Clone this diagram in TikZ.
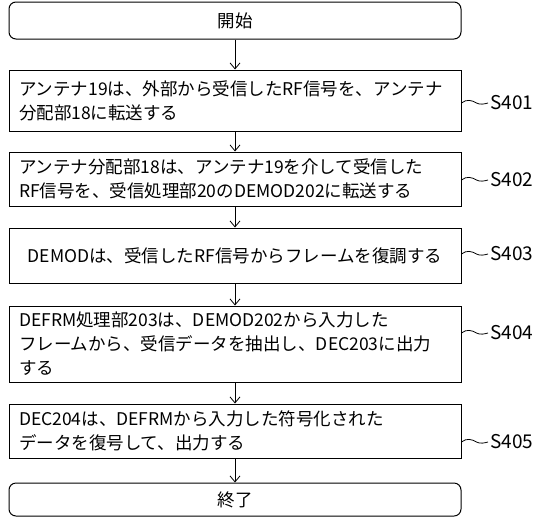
\documentclass[tikz,border=0pt]{standalone}
\usepackage{fontspec}
\setmainfont{Noto Sans CJK JP}
\usetikzlibrary{arrows.meta,calc}
\begin{document}
\begin{tikzpicture}[x=1pt,y=-1pt,
  box/.style={draw=black, line width=1pt, text width=432pt, inner xsep=10pt, inner ysep=0pt, align=left, font=\fontsize{17.5}{24}\selectfont},
  term/.style={box, rounded corners=7pt, align=center},
  flow/.style={draw=black, line width=0.8pt, -{Straight Barb[length=6pt,width=10pt]}},
  lab/.style={anchor=west, inner sep=0pt, font=\fontsize{19}{20}\selectfont},
  wave/.style={draw=black, line width=0.8pt}]
\useasboundingbox (0,0) rectangle (540,517);
\node[term, minimum height=37pt] (st) at (235,20.5) {開始};
\node[box, minimum height=61pt] (s1) at (235,100.5) {アンテナ19は、外部から受信したRF信号を、アンテナ\\分配部18に転送する};
\node[box, minimum height=54pt] (s2) at (235,179) {アンテナ分配部18は、アンテナ19を介して受信した\\RF信号を、受信処理部20のDEMOD202に転送する};
\node[box, minimum height=55pt, align=center] (s3) at (235,255.5) {DEMODは、受信したRF信号からフレームを復調する};
\node[box, minimum height=76pt] (s4) at (235,344) {DEFRM処理部203は、DEMOD202から入力した\\フレームから、受信データを抽出し、DEC203に出力\\する};
\node[box, minimum height=54pt] (s5) at (235,431) {DEC204は、DEFRMから入力した符号化された\\データを復号して、出力する};
\node[term, minimum height=33pt] (en) at (235,499.5) {終了};
\draw[flow] (st) -- (s1);
\draw[flow] (s1) -- (s2);
\draw[flow] (s2) -- (s3);
\draw[flow] (s3) -- (s4);
\draw[flow] (s4) -- (s5);
\draw[flow] (s5) -- (en);
\node[lab] (l1) at (490,103) {S401};
\node[lab] (l2) at (490,180) {S402};
\node[lab] (l3) at (490,254) {S403};
\node[lab] (l4) at (490,333) {S404};
\node[lab] (l5) at (490,442) {S405};
\foreach \s/\l in {s1/l1,s2/l2,s3/l3,s4/l4,s5/l5}{
  \draw[wave] (\s.east |- \l.west) .. controls ($(\s.east |- \l.west)+(5,-4)$) and ($(\s.east |- \l.west)+(10,-3)$) .. ($(\s.east |- \l.west)+(15,0)$) .. controls ($(\s.east |- \l.west)+(19,2)$) and ($(\l.west)+(-6,1)$) .. ($(\l.west)+(-2,0)$);
}
\end{tikzpicture}
\end{document}
